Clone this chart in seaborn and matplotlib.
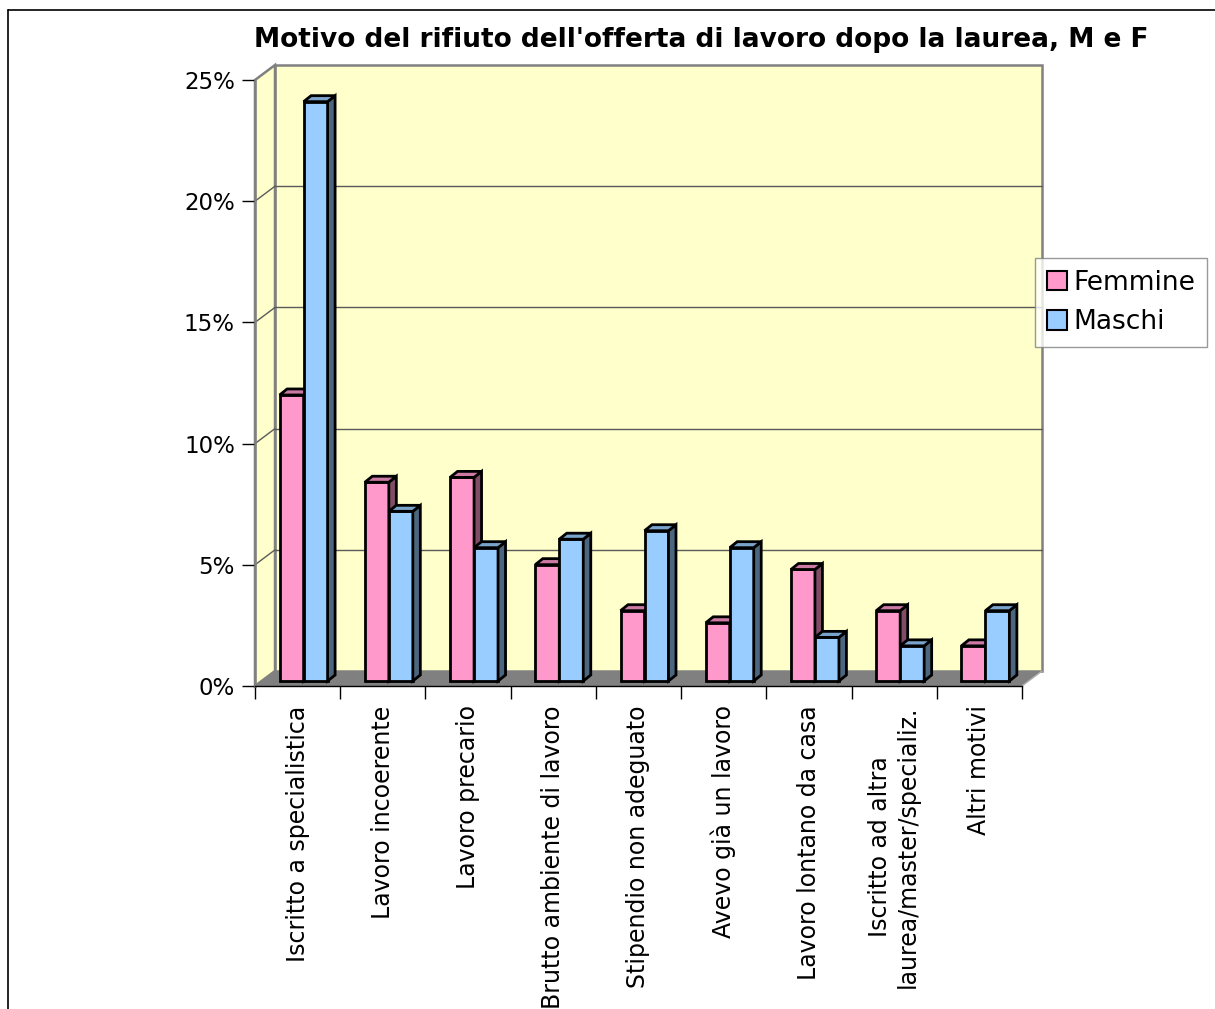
import numpy as np
import pandas as pd
import seaborn as sns
import matplotlib
matplotlib.use("Agg")
import matplotlib.pyplot as plt
from matplotlib.patches import Polygon, Patch, Rectangle
from matplotlib.lines import Line2D

# ---------------- data ----------------
categories = [
    "Iscritto a specialistica",
    "Lavoro incoerente",
    "Lavoro precario",
    "Brutto ambiente di lavoro",
    "Stipendio non adeguato",
    "Avevo già un lavoro",
    "Lavoro lontano da casa",
    "Iscritto ad altra\nlaurea/master/specializ.",
    "Altri motivi",
]
series = ["Femmine", "Maschi"]
femmine = [11.8, 8.2, 8.4, 4.8, 2.9, 2.4, 4.6, 2.9, 1.45]
maschi = [23.9, 7.0, 5.5, 5.85, 6.2, 5.5, 1.8, 1.45, 2.9]
yticks = [0, 5, 10, 15, 20, 25]
ytick_labels = ["0%", "5%", "10%", "15%", "20%", "25%"]
title = "Motivo del rifiuto dell'offerta di lavoro dopo la laurea, M e F"

# ---------------- style ----------------
front_col = {"Femmine": "#FF99CC", "Maschi": "#99CCFF"}
side_col = {"Femmine": "#804D66", "Maschi": "#4D6680"}
top_col = {"Femmine": "#CC7AA3", "Maschi": "#7AA3CC"}
wall_col = "#FFFFCC"
floor_col = "#808080"
grid_col = "#5A5A5A"
edge_gray = "#808080"

W, H = 1215, 1009
sns.set_style("white")
plt.rcParams["font.family"] = ["DejaVu Sans"]
plt.rcParams["text.color"] = "black"
plt.rcParams["xtick.color"] = "black"
plt.rcParams["ytick.color"] = "black"
plt.rcParams["xtick.labelcolor"] = "black"
plt.rcParams["ytick.labelcolor"] = "black"
fig = plt.figure(figsize=(W / 100, H / 100), dpi=100)
fig.patch.set_facecolor("white")

L, R, T, B = 255, 1022, 80, 686
ax = fig.add_axes([L / W, 1 - B / H, (R - L) / W, (B - T) / H])
ax.set_facecolor("none")

n = len(categories)
xmin, xmax = -0.5, n - 0.5
ymin, ymax = yticks[0], yticks[-1]
px_x = (xmax - xmin) / (R - L)   # data units per pixel (x)
px_y = (ymax - ymin) / (B - T)   # data units per pixel (y)

wx, wy = 20 * px_x, 15 * px_y    # wall depth
bx, by = 6 * px_x, 5 * px_y      # bar placement inside depth
dx, dy = 7.5 * px_x, 6 * px_y    # bar depth

df = pd.DataFrame({
    "motivo": categories * 2,
    "sesso": [series[0]] * n + [series[1]] * n,
    "valore": femmine + maschi,
})

sns.barplot(data=df, x="motivo", y="valore", hue="sesso", order=categories,
            hue_order=series, palette=front_col, width=0.563, saturation=1,
            edgecolor="black", linewidth=2.0, legend=False, ax=ax)
bars = [p for p in ax.patches if isinstance(p, Rectangle) and p.get_height() > 0]
bars.sort(key=lambda p: p.get_x())

ax.set_xlim(xmin, xmax)
ax.set_ylim(ymin, ymax)

# ---- walls & floor ----
back = Polygon([(xmin + wx, ymin + wy), (xmax + wx, ymin + wy),
                (xmax + wx, ymax + wy), (xmin + wx, ymax + wy)],
               closed=True, facecolor=wall_col, edgecolor=edge_gray,
               linewidth=1.8, clip_on=False, zorder=0.3)
ax.add_patch(back)
left = Polygon([(xmin, ymin), (xmin, ymax), (xmin + wx, ymax + wy),
                (xmin + wx, ymin + wy)], closed=True, facecolor=wall_col,
               edgecolor=edge_gray, linewidth=1.8, clip_on=False, zorder=0.35)
ax.add_patch(left)
for yv in yticks[1:-1]:
    ax.add_line(Line2D([xmin + wx, xmax + wx], [yv + wy, yv + wy],
                       color=grid_col, lw=1.0, clip_on=False, zorder=0.4))
    ax.add_line(Line2D([xmin, xmin + wx], [yv, yv + wy],
                       color=grid_col, lw=1.0, clip_on=False, zorder=0.4))
floor = Polygon([(xmin, ymin), (xmax, ymin), (xmax + wx, ymin + wy),
                 (xmin + wx, ymin + wy)], closed=True, facecolor=floor_col,
                edgecolor="none", clip_on=False, zorder=0.5)
ax.add_patch(floor)
ax.add_line(Line2D([xmax, xmax + wx], [ymin, ymin + wy], color="#B0B0B0",
                   lw=1.0, clip_on=False, zorder=0.55))

# ---- 3D bars ----
fem_rgb = matplotlib.colors.to_rgb(front_col["Femmine"])
for i, p in enumerate(bars):
    x0 = p.get_x() + bx
    y0 = p.get_y() + by
    w = p.get_width()
    h = p.get_height()
    p.set_x(x0)
    p.set_y(y0)
    p.set_joinstyle("miter")
    fc = p.get_facecolor()[:3]
    key = "Femmine" if np.allclose(fc, fem_rgb, atol=0.02) else "Maschi"
    z = 2 + i * 0.1
    p.set_zorder(z)
    p.set_clip_on(False)
    x1, y1 = x0 + w, y0 + h
    side = Polygon([(x1, y0), (x1 + dx, y0 + dy), (x1 + dx, y1 + dy), (x1, y1)],
                   closed=True, facecolor=side_col[key], edgecolor="black",
                   linewidth=2.0, joinstyle="miter", clip_on=False, zorder=z + 0.05)
    top = Polygon([(x0, y1), (x0 + dx, y1 + dy), (x1 + dx, y1 + dy), (x1, y1)],
                  closed=True, facecolor=top_col[key], edgecolor="black",
                  linewidth=2.0, joinstyle="miter", clip_on=False, zorder=z + 0.05)
    ax.add_patch(side)
    ax.add_patch(top)

# ---- axes, ticks ----
for s in ["top", "right"]:
    ax.spines[s].set_visible(False)
ax.spines["bottom"].set_color("black")
ax.spines["bottom"].set_linewidth(1.0)
ax.spines["left"].set_color(edge_gray)
ax.spines["left"].set_linewidth(1.8)
ax.spines["left"].set_zorder(0.6)

ax.set_yticks(yticks)
ax.set_yticklabels(ytick_labels, fontsize=16.5)
ax.tick_params(axis="y", direction="out", length=9.5, width=1.0,
               color="black", labelcolor="black", pad=5, left=True)
ax.set_xticks(range(n))
ax.set_xticklabels(categories, rotation=90, fontsize=17,
                   multialignment="center")
ax.tick_params(axis="x", which="major", length=0, pad=14, labelcolor="black")
ax.set_xticks(np.arange(xmin, xmax + 0.01, 1.0), minor=True)
ax.tick_params(axis="x", which="minor", direction="out", length=9.5,
               width=1.0, color="black", bottom=True)
ax.set_xlabel("")
ax.set_ylabel("")

# ---- title ----
fig.text(701 / W, 1 - 40 / H, title, ha="center", va="center",
         fontsize=19, fontweight="bold", color="black")

# ---- legend ----
handles = [Patch(facecolor=front_col[s], edgecolor="black", linewidth=1.5)
           for s in series]
leg = fig.legend(handles, series, loc="upper left",
                 bbox_to_anchor=(1035 / W, 1 - 258 / H), frameon=True,
                 fancybox=False, edgecolor=edge_gray, fontsize=19,
                 handlelength=0.75, handleheight=0.75, handletextpad=0.25,
                 borderpad=0.45, labelspacing=0.5, borderaxespad=0)
leg.get_frame().set_linewidth(1.0)

# ---- outer frame ----
fig.add_artist(Line2D([8 / W, 1.0], [1 - 10 / H, 1 - 10 / H],
                      transform=fig.transFigure, color="black", lw=1.2))
fig.add_artist(Line2D([8 / W, 8 / W], [0.0, 1 - 10 / H],
                      transform=fig.transFigure, color="black", lw=1.2))

fig.savefig("out.png", dpi=100)
